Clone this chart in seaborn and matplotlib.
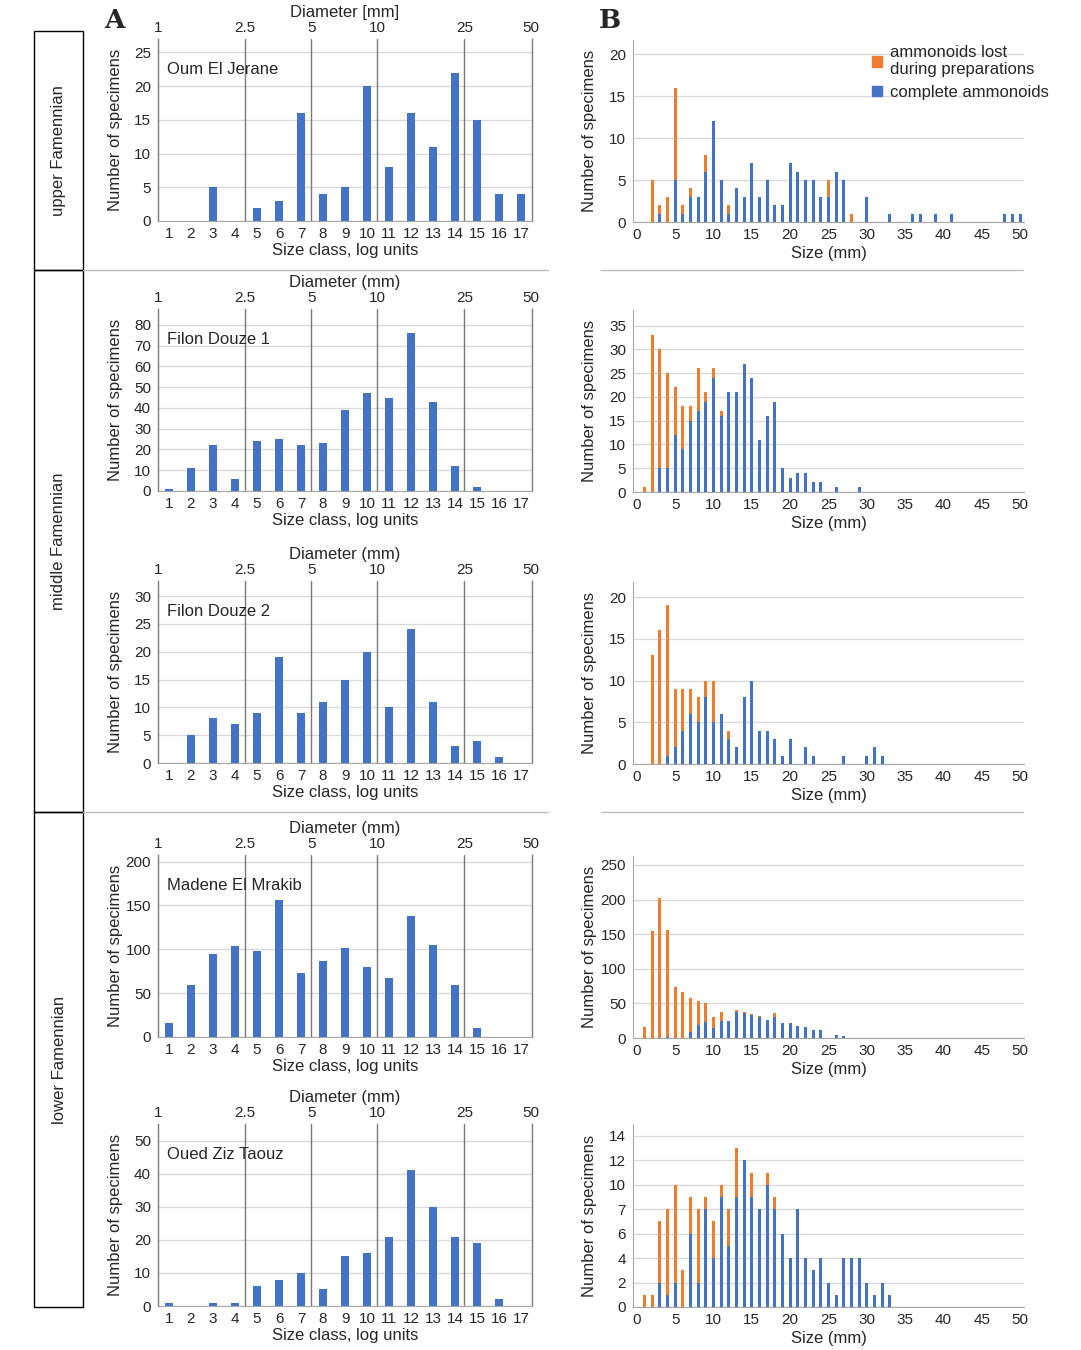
import numpy as np
import seaborn as sns
import matplotlib.pyplot as plt
from matplotlib.patches import Patch, Rectangle
from matplotlib.lines import Line2D

# ---- data -------------------------------------------------------------
sites = ["Oum El Jerane", "Filon Douze 1", "Filon Douze 2",
         "Madene El Mrakib", "Oued Ziz Taouz"]
diam_titles = ["Diameter [mm]", "Diameter (mm)", "Diameter (mm)",
               "Diameter (mm)", "Diameter (mm)"]

# panel A: counts per size class (log units)
size_classes = list(range(1, 18))
a_oum = [0, 0, 5, 0, 2, 3, 16, 4, 5, 20, 8, 16, 11, 22, 15, 4, 4]
a_filon1 = [1, 11, 22, 6, 24, 25, 22, 23, 39, 47, 45, 76, 43, 12, 2, 0, 0]
a_filon2 = [0, 5, 8, 7, 9, 19, 9, 11, 15, 20, 10, 24, 11, 3, 4, 1, 0]
a_madene = [16, 59, 95, 104, 98, 156, 73, 87, 102, 80, 67, 138, 105, 59, 10, 0, 0]
a_oued = [1, 0, 1, 1, 6, 8, 10, 5, 15, 16, 21, 41, 30, 21, 19, 2, 0]

a_yticks = [range(0, 26, 5), range(0, 81, 10), range(0, 31, 5),
            range(0, 201, 50), range(0, 51, 10)]
a_ymax = [27, 87.7, 32.7, 207.6, 55]

diam_ticks = [1, 2.5, 5, 10, 25, 50]
diam_labels = ["1", "2.5", "5", "10", "25", "50"]

# panel B: counts per mm (0..50), complete and lost during preparation
b_sizes = list(range(0, 51))
b_complete_oum = [0, 0, 0, 1, 0, 5, 1, 3, 3, 6,
                  12, 5, 1, 4, 3, 7, 3, 5, 2, 2,
                  7, 6, 5, 5, 3, 3, 6, 5, 0, 0,
                  3, 0, 0, 1, 0, 0, 1, 1, 0, 1,
                  0, 1, 0, 0, 0, 0, 0, 0, 1, 1, 1]
b_lost_oum = [0, 0, 5, 1, 3, 11, 1, 1, 0, 2,
              0, 0, 1, 0, 0, 0, 0, 0, 0, 0,
              0, 0, 0, 0, 0, 2, 0, 0, 1, 0,
              0, 0, 0, 0, 0, 0, 0, 0, 0, 0,
              0, 0, 0, 0, 0, 0, 0, 0, 0, 0, 0]
b_complete_filon1 = [0, 0, 0, 5, 5, 12, 9, 15, 17, 19,
                     24, 16, 21, 21, 27, 24, 11, 16, 19, 5,
                     3, 4, 4, 2, 2, 0, 1, 0, 0, 1,
                     0, 0, 0, 0, 0, 0, 0, 0, 0, 0,
                     0, 0, 0, 0, 0, 0, 0, 0, 0, 0, 0]
b_lost_filon1 = [0, 1, 33, 25, 20, 10, 9, 3, 9, 2,
                 2, 1, 0, 0, 0, 0, 0, 0, 0, 0,
                 0, 0, 0, 0, 0, 0, 0, 0, 0, 0,
                 0, 0, 0, 0, 0, 0, 0, 0, 0, 0,
                 0, 0, 0, 0, 0, 0, 0, 0, 0, 0, 0]
b_complete_filon2 = [0, 0, 0, 0, 1, 2, 4, 6, 5, 8,
                     5, 6, 3, 2, 8, 10, 4, 4, 3, 1,
                     3, 0, 2, 1, 0, 0, 0, 1, 0, 0,
                     1, 2, 1, 0, 0, 0, 0, 0, 0, 0,
                     0, 0, 0, 0, 0, 0, 0, 0, 0, 0, 0]
b_lost_filon2 = [0, 0, 13, 16, 18, 7, 5, 3, 3, 2,
                 5, 0, 1, 0, 0, 0, 0, 0, 0, 0,
                 0, 0, 0, 0, 0, 0, 0, 0, 0, 0,
                 0, 0, 0, 0, 0, 0, 0, 0, 0, 0,
                 0, 0, 0, 0, 0, 0, 0, 0, 0, 0, 0]
b_complete_madene = [0, 0, 0, 0, 2, 0, 0, 9, 19, 23,
                     14, 24, 24, 37, 36, 33, 31, 26, 31, 21,
                     21, 18, 16, 12, 12, 0, 5, 3, 0, 0,
                     0, 0, 0, 0, 0, 0, 0, 0, 0, 0,
                     0, 0, 0, 0, 0, 0, 0, 0, 0, 0, 0]
b_lost_madene = [0, 16, 154, 203, 154, 73, 67, 49, 35, 28,
                 16, 13, 0, 4, 2, 1, 1, 0, 5, 0,
                 0, 0, 0, 0, 0, 0, 0, 0, 0, 0,
                 0, 0, 0, 0, 0, 0, 0, 0, 0, 0,
                 0, 0, 0, 0, 0, 0, 0, 0, 0, 0, 0]
b_complete_oued = [0, 0, 0, 2, 1, 2, 0, 6, 2, 8,
                   4, 9, 5, 9, 12, 9, 8, 10, 8, 6,
                   4, 8, 4, 3, 4, 2, 1, 4, 4, 4,
                   2, 1, 2, 1, 0, 0, 0, 0, 0, 0,
                   0, 0, 0, 0, 0, 0, 0, 0, 0, 0, 0]
b_lost_oued = [0, 1, 1, 5, 7, 8, 3, 3, 6, 1,
               3, 1, 3, 4, 0, 2, 0, 1, 1, 0,
               0, 0, 0, 0, 0, 0, 0, 0, 0, 0,
               0, 0, 0, 0, 0, 0, 0, 0, 0, 0,
               0, 0, 0, 0, 0, 0, 0, 0, 0, 0, 0]

b_yticks = [range(0, 21, 5), range(0, 36, 5), range(0, 21, 5),
            range(0, 251, 50), range(0, 15, 2)]
b_ytick_labels_oued = ["0", "2", "4", "6", "7", "10", "12", "14"]
b_ymax = [21.7, 38.3, 21.8, 263, 14.9]
b_xticks = list(range(0, 51, 5))

stages = ["upper Famennian", "middle Famennian", "lower Famennian"]
legend_labels = ["ammonoids lost\nduring preparations", "complete ammonoids"]

a_data = [a_oum, a_filon1, a_filon2, a_madene, a_oued]
b_data = [(b_complete_oum, b_lost_oum), (b_complete_filon1, b_lost_filon1),
          (b_complete_filon2, b_lost_filon2), (b_complete_madene, b_lost_madene),
          (b_complete_oued, b_lost_oued)]

# ---- style ------------------------------------------------------------
BLUE = "#4472C4"
ORANGE = "#ED7D31"
GRID = "#d9d9d9"
DARK = "#7a7a7a"

sns.set_style("white")
plt.rcParams["font.family"] = ["Liberation Sans", "DejaVu Sans"]
plt.rcParams["xtick.labelsize"] = 11
plt.rcParams["ytick.labelsize"] = 11
plt.rcParams["axes.labelsize"] = 12

W, H = 1081, 1350
fig = plt.figure(figsize=(W / 100, H / 100), dpi=100)


def rect(left, top, right, bottom):
    return [left / W, 1 - bottom / H, (right - left) / W, (bottom - top) / H]


def cls2diam(x):
    return 2 ** ((np.asarray(x, float) - 0.5) / 3)


def diam2cls(d):
    d = np.clip(np.asarray(d, float), 1e-6, None)
    return 0.5 + 3 * np.log2(d)


rows = [(39, 221), (309, 491), (581, 763), (855, 1037), (1124, 1306)]

for i, (top, bottom) in enumerate(rows):
    # ---- panel A ----
    ax = fig.add_axes(rect(158, top, 532, bottom))
    sns.barplot(x=size_classes, y=a_data[i], native_scale=True, color=BLUE,
                width=0.33, linewidth=0, saturation=1, errorbar=None, ax=ax)
    ax.set_xlim(0.5, 17.5)
    ax.set_ylim(0, a_ymax[i])
    ax.set_xticks(size_classes)
    ax.set_xticklabels([str(c) for c in size_classes])
    ax.set_yticks(list(a_yticks[i]))
    ax.yaxis.grid(True, color=GRID, lw=1)
    ax.xaxis.grid(False)
    ax.set_axisbelow(True)
    ax.tick_params(length=0, pad=5)
    ax.tick_params(axis="x", pad=4)
    ax.set_xlabel("Size class, log units", labelpad=2)
    ax.set_ylabel("Number of specimens")
    ax.yaxis.set_label_coords(-0.094, 0.5)
    for s in ["left", "right"]:
        ax.spines[s].set_color(DARK)
        ax.spines[s].set_linewidth(1)
    ax.spines["bottom"].set_color("#a6a6a6")
    ax.spines["top"].set_visible(False)
    for d in diam_ticks[1:-1]:
        ax.axvline(diam2cls(d), color=DARK, lw=1, zorder=1)
    ax.text(0.024, 0.835, sites[i], transform=ax.transAxes, fontsize=12,
            ha="left", va="center", zorder=5)

    sec = ax.secondary_xaxis("top", functions=(cls2diam, diam2cls))
    sec.set_xticks(diam_ticks)
    sec.set_xticklabels(diam_labels)
    sec.tick_params(length=0, pad=3)
    sec.spines["top"].set_visible(False)
    sec.set_xlabel(diam_titles[i], labelpad=3)

    # ---- panel B ----
    complete, lost = b_data[i]
    total = np.array(complete) + np.array(lost)
    bx = fig.add_axes(rect(633, top + 1, 1024, bottom + 1))
    sns.barplot(x=b_sizes, y=total, native_scale=True, color=ORANGE,
                width=0.42, linewidth=0, saturation=1, errorbar=None, ax=bx)
    sns.barplot(x=b_sizes, y=complete, native_scale=True, color=BLUE,
                width=0.42, linewidth=0, saturation=1, errorbar=None, ax=bx)
    bx.set_xlim(-0.5, 50.5)
    bx.set_ylim(0, b_ymax[i])
    bx.set_xticks(b_xticks)
    bx.set_xticklabels([str(t) for t in b_xticks])
    bx.set_yticks(list(b_yticks[i]))
    if i == 4:
        bx.set_yticklabels(b_ytick_labels_oued)
    bx.yaxis.grid(True, color=GRID, lw=1)
    bx.xaxis.grid(False)
    bx.set_axisbelow(True)
    bx.tick_params(length=0, pad=5)
    bx.tick_params(axis="x", pad=4)
    bx.set_xlabel("Size (mm)", labelpad=3)
    bx.set_ylabel("Number of specimens")
    bx.yaxis.set_label_coords(-0.092, 0.5)
    for s in ["top", "right"]:
        bx.spines[s].set_visible(False)
    for s in ["left", "bottom"]:
        bx.spines[s].set_color("#a6a6a6")

    if i == 0:
        handles = [Patch(color=ORANGE), Patch(color=BLUE)]
        bx.legend(handles, legend_labels, loc="upper left",
                  bbox_to_anchor=(872 / W, 1 - 45 / H),
                  bbox_transform=fig.transFigure, frameon=False, fontsize=12,
                  handlelength=0.6, handleheight=0.6, handletextpad=0.5,
                  labelspacing=0.45, borderpad=0, borderaxespad=0)

# panel letters
fig.text(115 / W, 1 - 21 / H, "A", fontsize=19, fontweight="bold",
         family="DejaVu Serif", ha="center", va="center")
fig.text(610 / W, 1 - 21 / H, "B", fontsize=19, fontweight="bold",
         family="DejaVu Serif", ha="center", va="center")

# stage boxes on the left
boxes = [(31, 270), (270, 812), (812, 1307)]
for label, (top, bottom) in zip(stages, boxes):
    fig.add_artist(Rectangle((34 / W, 1 - bottom / H), 49 / W, (bottom - top) / H,
                             transform=fig.transFigure, fill=False,
                             edgecolor="black", lw=1))
    fig.text(59 / W, 1 - (top + bottom) / 2 / H, label, rotation=90,
             fontsize=12, ha="center", va="center")

# horizontal separators between stages
for y in [270, 812]:
    fig.add_artist(Line2D([83 / W, 548 / W], [1 - y / H, 1 - y / H],
                          transform=fig.transFigure, color="#bfbfbf", lw=1))
    fig.add_artist(Line2D([601 / W, 1023 / W], [1 - y / H, 1 - y / H],
                          transform=fig.transFigure, color="#bfbfbf", lw=1))

fig.savefig("out.png", dpi=100, facecolor="white")
